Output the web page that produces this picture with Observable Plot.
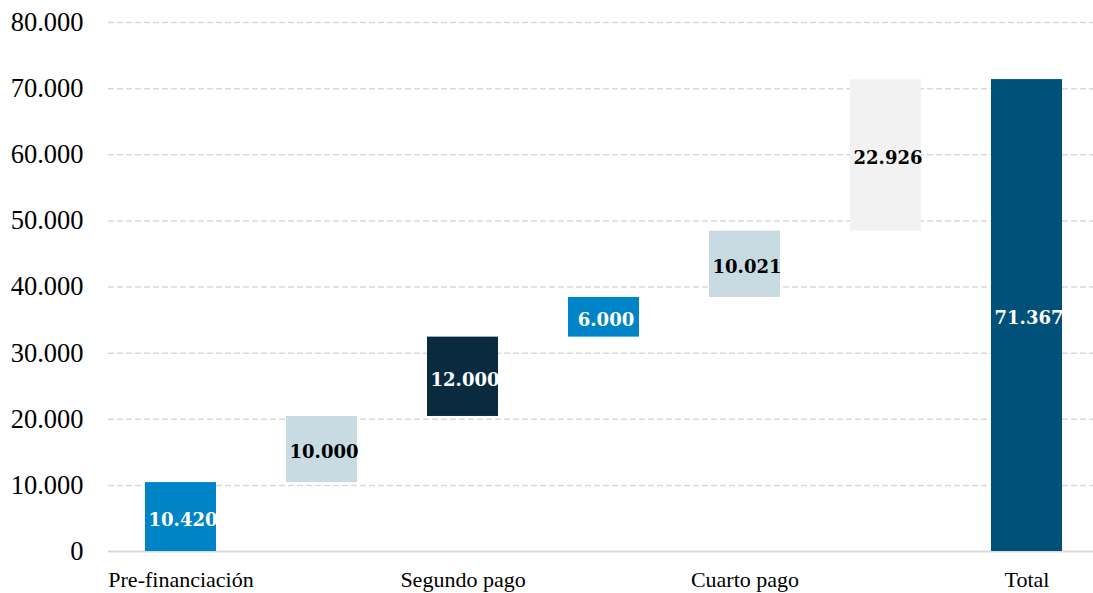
<!DOCTYPE html>
<html>
<head>
<meta charset="utf-8">
<script src="https://cdn.jsdelivr.net/npm/d3@7"></script>
<script src="https://cdn.jsdelivr.net/npm/@observablehq/plot@0.6"></script>
<style>
  html, body { margin: 0; padding: 0; background: #fff; }
  #chart svg { display: block; }
</style>
</head>
<body>
<div id="chart"></div>
<script>
const categories = ["Pre-financiación", "Primer pago", "Segundo pago", "Tercer pago", "Cuarto pago", "Quinto pago", "Total"];
const values = [10420, 10000, 12000, 6000, 10021, 22926, 71367];
const isTotal = [false, false, false, false, false, false, true];
const barColors = ["#0084C8", "#C8DBE2", "#0A2B3F", "#0084C8", "#C8DBE2", "#F2F2F2", "#005179"];
const labelColors = ["#ffffff", "#000000", "#ffffff", "#ffffff", "#000000", "#000000", "#ffffff"];
const shownCategories = ["Pre-financiación", "Segundo pago", "Cuarto pago", "Total"];
const yTicks = [0, 10000, 20000, 30000, 40000, 50000, 60000, 70000, 80000];

const locale = d3.formatLocale({decimal: ",", thousands: ".", grouping: [3], currency: ["", " €"]});
const fmt = locale.format(",d");

let running = 0;
const data = categories.map((c, i) => {
  const start = isTotal[i] ? 0 : running;
  const end = isTotal[i] ? values[i] : running + values[i];
  if (!isTotal[i]) running = end;
  return {category: c, start, end, mid: (start + end) / 2, value: values[i], color: barColors[i], labelColor: labelColors[i]};
});

const chart = Plot.plot({
  width: 1093,
  height: 593,
  marginLeft: 108,
  marginRight: 0,
  marginTop: 22,
  marginBottom: 42,
  style: {fontFamily: "'Liberation Serif', serif", background: "#fff", color: "#000"},
  x: {domain: categories, paddingInner: 0.497, paddingOuter: 0.237, align: 0.537, label: null},
  y: {domain: [0, 80000], label: null},
  marks: [
    Plot.ruleY(yTicks.filter(d => d > 0), {stroke: "#d9d9d9", strokeWidth: 1.5, strokeDasharray: "6,3"}),
    Plot.ruleY([0], {stroke: "#d9d9d9", strokeWidth: 2}),
    Plot.barY(data, {x: "category", y1: "start", y2: "end", fill: "color"}),
    Plot.text(data, {x: "category", y: "mid", text: d => fmt(d.value), fill: "labelColor", dx: 2, dy: 3,
      fontFamily: "'DejaVu Serif', serif", fontWeight: "bold", fontSize: 18}),
    Plot.axisY({ticks: yTicks, tickFormat: fmt, tickSize: 0, tickPadding: 25, fontSize: 26.5, label: null}),
    Plot.axisX({ticks: shownCategories, tickSize: 0, tickPadding: 20, fontSize: 22, label: null})
  ]
});
document.getElementById("chart").appendChild(chart);
</script>
</body>
</html>
